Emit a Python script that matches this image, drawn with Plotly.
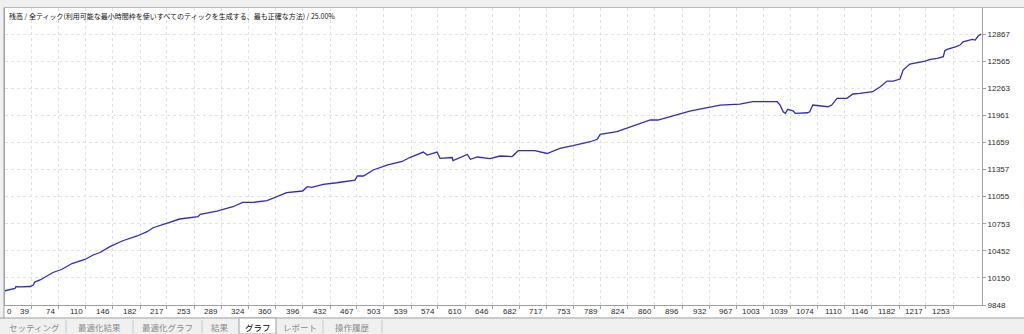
import plotly.graph_objects as go

# ---- data ----
trade_no = [0, 17, 18, 24, 37, 41, 43, 50, 67, 79, 92, 109, 120, 129, 142, 159, 178, 191, 199, 212,
            230, 234, 258, 261, 283, 304, 317, 331, 349, 362, 375, 396, 402, 408, 423, 441, 465, 468, 476, 489,
            508, 527, 537, 555, 560, 573, 577, 593, 594, 613, 617, 626, 643, 656, 672, 680, 702, 718, 735, 752,
            775, 784, 788, 810, 830, 854, 864, 880, 906, 946, 972, 989, 1021, 1025, 1029, 1032, 1035, 1042, 1045, 1061,
            1064, 1068, 1078, 1088, 1093, 1100, 1113, 1121, 1130, 1147, 1157, 1162, 1166, 1174, 1183, 1187, 1196, 1216, 1223, 1232,
            1240, 1242, 1245, 1256, 1262, 1266, 1278, 1282, 1286, 1290]
balance = [10000, 10032, 10052, 10049, 10054, 10071, 10104, 10127, 10210, 10246, 10310, 10355, 10405, 10433, 10498, 10564, 10617, 10665, 10709, 10747,
           10803, 10806, 10832, 10858, 10895, 10943, 10992, 10992, 11010, 11054, 11099, 11118, 11166, 11159, 11193, 11210, 11240, 11285, 11285, 11352,
           11408, 11447, 11491, 11552, 11519, 11552, 11482, 11491, 11458, 11525, 11471, 11497, 11478, 11508, 11502, 11567, 11569, 11536, 11594, 11623,
           11667, 11694, 11750, 11779, 11842, 11909, 11909, 11946, 12009, 12076, 12087, 12113, 12113, 12076, 12001, 11984, 12028, 12012, 11984, 11990,
           12001, 12076, 12065, 12057, 12076, 12151, 12151, 12199, 12206, 12224, 12280, 12310, 12343, 12343, 12366, 12466, 12533, 12566, 12585, 12596,
           12614, 12681, 12696, 12725, 12744, 12781, 12808, 12800, 12845, 12867]

x_ticks = [0, 39, 74, 110, 146, 182, 217, 253, 289, 324, 360, 396, 432, 467, 503, 539, 574, 610, 646, 682,
           717, 753, 789, 824, 860, 896, 932, 967, 1003, 1039, 1074, 1110, 1146, 1182, 1217, 1253]
y_ticks = [9848, 10150, 10452, 10753, 11055, 11357, 11659, 11961, 12263, 12565, 12867]

title_text = "残高 / 全ティック(利用可能な最小時間枠を使いすべてのティックを生成する、最も正確な方法) / 25.00%"
tab_labels = ["セッティング", "最適化結果", "最適化グラフ", "結果", "グラフ", "レポート", "操作履歴"]
selected_tab = "グラフ"

# ---- layout geometry (pixels) ----
W, H = 1024, 334
L, R, T, B = 5, 42, 8, 29
PW, PH = W - L - R, H - T - B


def px(x):
    return (x - L) / PW


def py(y):
    return (H - B - y) / PH


fig = go.Figure()
fig.add_trace(go.Scatter(x=trade_no, y=balance, mode="lines",
                         line=dict(color="#2b2bc6", width=1.3), hoverinfo="skip"))

tick_font = dict(family="Liberation Sans, Arial, sans-serif", size=8, color="#2a2a2a")

fig.update_layout(
    width=W, height=H,
    margin=dict(l=L, r=R, t=T, b=B, pad=0),
    paper_bgcolor="white", plot_bgcolor="white",
    showlegend=False,
    xaxis=dict(range=[3.8, 1291], tickvals=x_ticks, showticklabels=False,
               ticks="outside", ticklen=3, tickcolor="#a0a0a0",
               showline=True, linecolor="#a0a0a0", linewidth=1, mirror=True,
               showgrid=True, gridcolor="#e2e2e2", griddash="dot", gridwidth=1,
               zeroline=False, fixedrange=True),
    yaxis=dict(range=[9848, 13157], tickvals=y_ticks, ticktext=[str(v) for v in y_ticks],
               side="right", ticks="outside", ticklen=3, tickcolor="#a0a0a0",
               tickfont=tick_font,
               showline=True, linecolor="#a0a0a0", linewidth=1, mirror=True,
               showgrid=True, gridcolor="#e2e2e2", griddash="dot", gridwidth=1,
               zeroline=False, fixedrange=True),
)

annotations = []
# x tick labels (right-aligned to the tick, first one left-aligned at the edge)
for i, v in enumerate(x_ticks):
    if i == 0:
        annotations.append(dict(x=0, xref="paper", y=0, yref="paper", text=str(v),
                                showarrow=False, xanchor="left", yanchor="middle",
                                yshift=-6, font=tick_font))
    else:
        annotations.append(dict(x=v, xref="x", y=0, yref="paper", text=str(v),
                                showarrow=False, xanchor="right", yanchor="middle",
                                xshift=-1, yshift=-6, font=tick_font))

# title inside the plot
annotations.append(dict(x=px(7), xref="paper", y=py(15.5), yref="paper", text=title_text,
                        showarrow=False, xanchor="left", yanchor="middle",
                        font=dict(family="Noto Sans CJK JP", size=7, color="#111111")))

shapes = []
# window background strips (top and left) and tab bar
shapes.append(dict(type="rect", xref="paper", yref="paper", x0=px(0), x1=px(W), y0=py(0), y1=py(7.5),
                   fillcolor="#f0f0f0", line=dict(width=0), layer="below"))
shapes.append(dict(type="rect", xref="paper", yref="paper", x0=px(0), x1=px(4), y0=py(0), y1=py(H),
                   fillcolor="#f0f0f0", line=dict(width=0), layer="below"))
shapes.append(dict(type="line", xref="paper", yref="paper", x0=px(4), x1=px(4), y0=py(7.5), y1=py(318),
                   line=dict(color="#a0a0a0", width=1)))
shapes.append(dict(type="line", xref="paper", yref="paper", x0=px(4), x1=px(W), y0=py(7.5), y1=py(7.5),
                   line=dict(color="#b8b8b8", width=1)))
shapes.append(dict(type="rect", xref="paper", yref="paper", x0=px(0), x1=px(W), y0=py(318.5), y1=py(H),
                   fillcolor="#f0f0f0", line=dict(width=0)))
shapes.append(dict(type="line", xref="paper", yref="paper", x0=px(0), x1=px(W), y0=py(318), y1=py(318),
                   line=dict(color="#9a9a9a", width=1)))

tab_centers = [34, 99, 167.5, 220, 257.5, 300, 352]
tab_seps = [66, 133, 202, 323, 382]
for s in tab_seps:
    shapes.append(dict(type="line", xref="paper", yref="paper", x0=px(s), x1=px(s), y0=py(320), y1=py(333),
                       line=dict(color="#c8c8c8", width=1)))
# selected tab
shapes.append(dict(type="rect", xref="paper", yref="paper", x0=px(239), x1=px(276), y0=py(318), y1=py(H),
                   fillcolor="white", line=dict(color="#a0a0a0", width=1)))

for lab, cx in zip(tab_labels, tab_centers):
    annotations.append(dict(x=px(cx), xref="paper", y=py(326.5), yref="paper", text=lab,
                            showarrow=False, xanchor="center", yanchor="middle",
                            font=dict(family="Noto Sans CJK JP", size=8.5,
                                      color="#000000" if lab == selected_tab else "#8a8a8a")))

fig.update_layout(annotations=annotations, shapes=shapes)
fig.write_html("out.html")
